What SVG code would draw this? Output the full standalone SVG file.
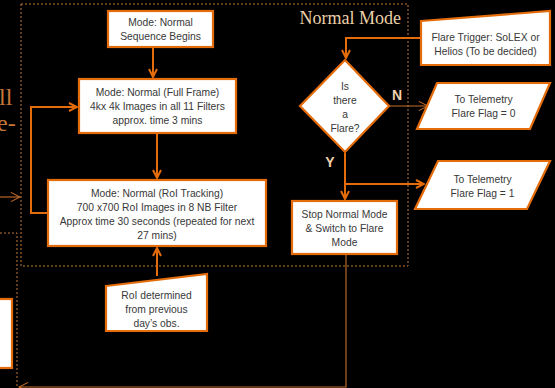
<svg xmlns="http://www.w3.org/2000/svg" width="555" height="388" viewBox="0 0 555 388">
<defs>
<style>
.box{fill:#ffffff;stroke:#e46c0a;stroke-width:2.2}
.t{font-family:"Liberation Sans",Arial,sans-serif;font-size:10.3px;fill:#383838;text-anchor:middle}
.c{fill:none;stroke:#e46c0a;stroke-width:2}
.thin{fill:none;stroke:#c8702c;stroke-width:1.1}
.dot{fill:none;stroke:#c07a3e;stroke-width:1;stroke-dasharray:2 2}
.lbl{font-family:"Liberation Sans",Arial,sans-serif;font-size:14px;font-weight:bold;fill:#f0d2ae;text-anchor:middle}
.serif{font-family:"Liberation Serif","Times New Roman",serif;fill:#c8763a}
</style>
<marker id="ah" viewBox="0 0 10 10" refX="9" refY="5" markerWidth="5" markerHeight="5" orient="auto" markerUnits="strokeWidth">
<path d="M1,1 L9,5 L1,9" fill="none" stroke="#e46c0a" stroke-width="2"/>
</marker>
<marker id="ahThin" viewBox="0 0 12 12" refX="11" refY="6" markerWidth="10" markerHeight="10" orient="auto" markerUnits="strokeWidth">
<path d="M1,1 L11,6 L1,11" fill="none" stroke="#c8702c" stroke-width="1.1"/>
</marker>
</defs>
<rect x="0" y="0" width="555" height="388" fill="#000"/>

<g id="frame">
<rect class="dot" x="21" y="4" width="387" height="262"/>
<text class="serif" x="401" y="24" font-size="18" text-anchor="end" style="fill:#ecd0a8">Normal Mode</text>
</g>

<g id="left-partial">
<text class="serif" x="-1" y="105" font-size="24">ll</text>
<text class="serif" x="-3" y="131" font-size="24">e-</text>
<path class="dot" d="M0,233 H17 V388"/>
<rect class="box" x="-5" y="299" width="17" height="69"/>
</g>

<g id="connectors">
<line class="c" x1="153" y1="48" x2="153" y2="77" marker-end="url(#ah)"/>
<line class="c" x1="157" y1="134" x2="157" y2="178" marker-end="url(#ah)"/>
<path class="c" d="M47,213 H31 V107 H77" marker-end="url(#ah)"/>
<line class="c" x1="157" y1="276" x2="157" y2="248" marker-end="url(#ah)"/>
<path class="c" d="M421,38 H346 V58" marker-end="url(#ah)"/>
<line class="thin" x1="389" y1="106" x2="428" y2="106" marker-end="url(#ahThin)"/>
<line class="c" x1="345" y1="153" x2="345" y2="199" marker-end="url(#ah)"/>
<line class="c" x1="345" y1="184" x2="424" y2="184" marker-end="url(#ah)"/>
<path class="thin" d="M346,255 V387 H19" marker-end="url(#ahThin)"/>
<line class="thin" x1="0" y1="197" x2="20" y2="197" marker-end="url(#ahThin)"/>
</g>

<g id="start">
<rect class="box" x="108" y="11" width="105" height="36"/>
<text class="t" x="160.5" y="26">Mode: Normal</text>
<text class="t" x="160.5" y="40">Sequence Begins</text>
</g>

<g id="fullframe">
<rect class="box" x="79" y="79" width="157" height="54"/>
<text class="t" x="157.5" y="96">Mode: Normal (Full Frame)</text>
<text class="t" x="157.5" y="110">4kx 4k Images in all 11 Filters</text>
<text class="t" x="157.5" y="124">approx. time 3 mins</text>
</g>

<g id="roitracking">
<rect class="box" x="48" y="180" width="218" height="66"/>
<text class="t" x="157" y="197">Mode: Normal (RoI Tracking)</text>
<text class="t" x="157" y="211">700 x700 RoI Images in 8 NB Filter</text>
<text class="t" x="157" y="225">Approx time 30 seconds (repeated for next</text>
<text class="t" x="157" y="239">27 mins)</text>
</g>

<g id="roi-input">
<path class="box" d="M106,286 L207,274 L207,331 L106,331 Z"/>
<text class="t" x="156.5" y="299">RoI determined</text>
<text class="t" x="156.5" y="313">from previous</text>
<text class="t" x="156.5" y="327">day’s obs.</text>
</g>

<g id="decision">
<path class="box" d="M345,60 L389,106 L345,152 L300,106 Z"/>
<text class="t" x="345" y="90">Is</text>
<text class="t" x="345" y="104">there</text>
<text class="t" x="345" y="118">a</text>
<text class="t" x="345" y="132">Flare?</text>
<text class="lbl" x="397" y="100">N</text>
<text class="lbl" x="330" y="167">Y</text>
</g>

<g id="trigger">
<path class="box" d="M421,21 L550,11 L550,65 L421,65 Z"/>
<text class="t" x="485.5" y="41">Flare Trigger: SoLEX or</text>
<text class="t" x="485.5" y="55">Helios (To be decided)</text>
</g>

<g id="telemetry0">
<path class="box" d="M437,83 L550,83 L530,129 L417,129 Z"/>
<text class="t" x="483.5" y="103">To Telemetry</text>
<text class="t" x="483.5" y="117">Flare Flag = 0</text>
</g>

<g id="telemetry1">
<path class="box" d="M438,161 L550,161 L527,209 L415,209 Z"/>
<text class="t" x="482.5" y="183">To Telemetry</text>
<text class="t" x="482.5" y="197">Flare Flag = 1</text>
</g>

<g id="stop">
<rect class="box" x="292" y="201" width="105" height="53"/>
<text class="t" x="344.5" y="218">Stop Normal Mode</text>
<text class="t" x="344.5" y="232">&amp; Switch to Flare</text>
<text class="t" x="344.5" y="246">Mode</text>
</g>
</svg>
